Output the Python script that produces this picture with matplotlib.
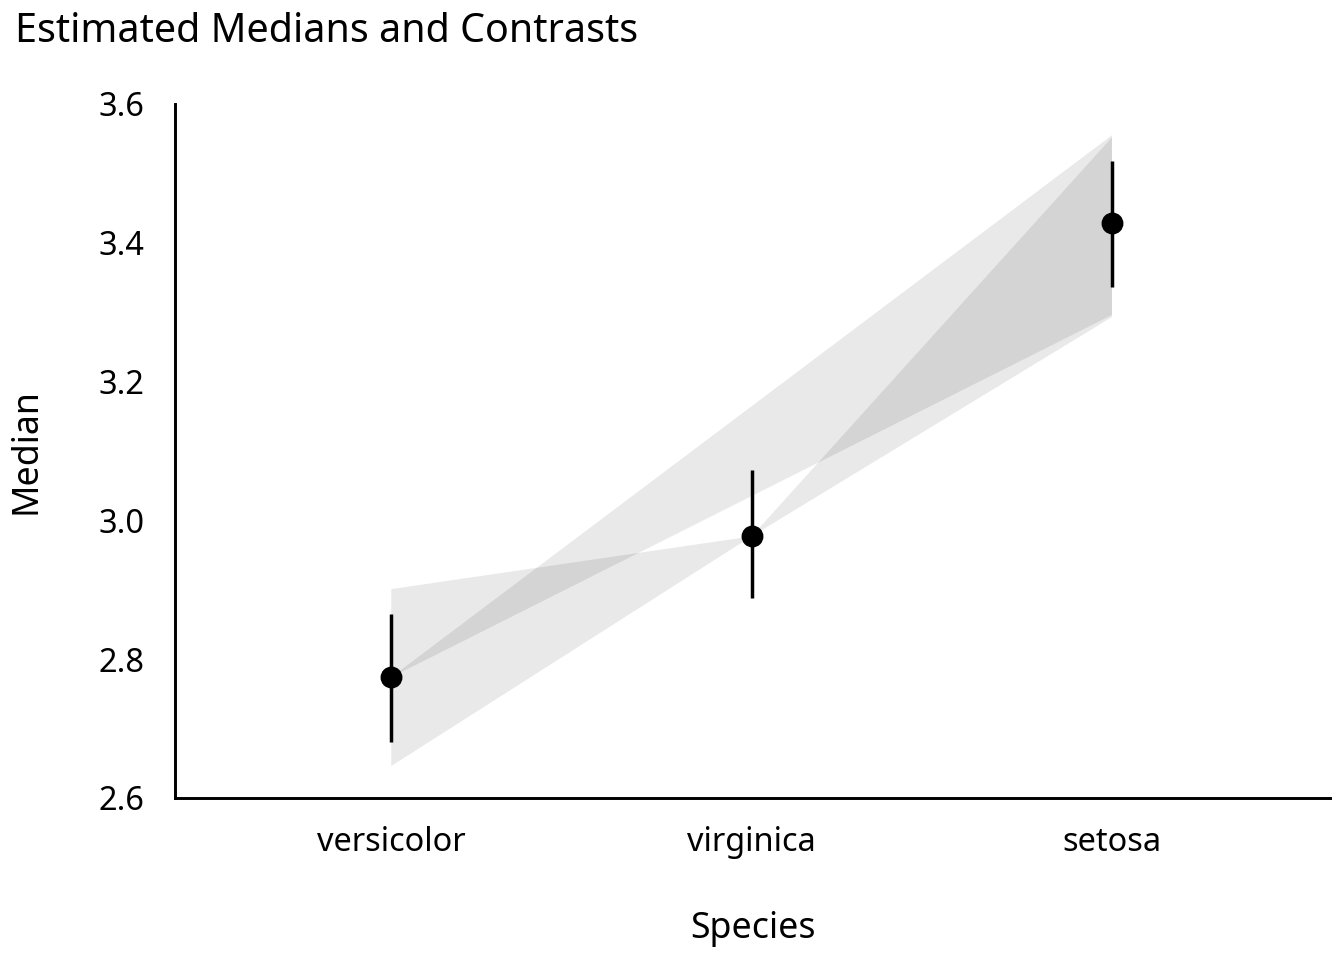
import matplotlib.pyplot as plt
import numpy as np

plt.rcParams['font.family'] = ['Noto Sans', 'DejaVu Sans']

# estimated medians with their intervals
species = ["versicolor", "virginica", "setosa"]
median = [2.774, 2.977, 3.429]
ci_low = [2.681, 2.888, 3.337]
ci_high = [2.865, 3.073, 3.518]

# contrasts: triangle from one level's median to the interval at the other level
con_from = ["versicolor", "virginica", "virginica"]
con_to = ["setosa", "setosa", "versicolor"]
con_low = [3.296, 3.293, 2.646]
con_high = [3.555, 3.552, 2.901]

yticks = [2.6, 2.8, 3.0, 3.2, 3.4, 3.6]

fig = plt.figure(figsize=(7, 5), dpi=192)
ax = fig.add_axes([175/1344, 1 - 798/960, 1155/1344, 694/960])

pos = {s: i for i, s in enumerate(species)}

for f, t, lo, hi in zip(con_from, con_to, con_low, con_high):
    xs = [pos[f], pos[t], pos[t]]
    ys = [median[pos[f]], lo, hi]
    ax.fill(xs, ys, color='black', alpha=0.088, lw=0, zorder=1)

x = np.arange(len(species))
ax.vlines(x, ci_low, ci_high, color='black', lw=1.3, zorder=2)
ax.plot(x, median, 'o', color='black', ms=7.2, zorder=3)

ax.set_xlim(-0.6, 2.605)
ax.set_ylim(2.6, 3.6)
ax.set_xticks(x)
ax.set_xticklabels(species)
ax.set_yticks(yticks)
ax.set_yticklabels([f"{v:.1f}" for v in yticks])
ax.tick_params(axis='both', length=0, labelsize=12.2)
ax.tick_params(axis='y', pad=11.6)
ax.tick_params(axis='x', pad=10.5)

for side in ['top', 'right']:
    ax.spines[side].set_visible(False)
for side in ['left', 'bottom']:
    ax.spines[side].set_linewidth(1.1)

ax.set_xlabel("Species", fontsize=13.4)
ax.set_ylabel("Median", fontsize=13.4)
ax.xaxis.set_label_coords(0.5, -0.163)
ax.yaxis.set_label_coords(-0.1126, 0.5)

fig.text(15/1344, 1 - 32/960, "Estimated Medians and Contrasts", fontsize=14.8,
         ha='left', va='center')

fig.savefig("out.png", dpi=192)
